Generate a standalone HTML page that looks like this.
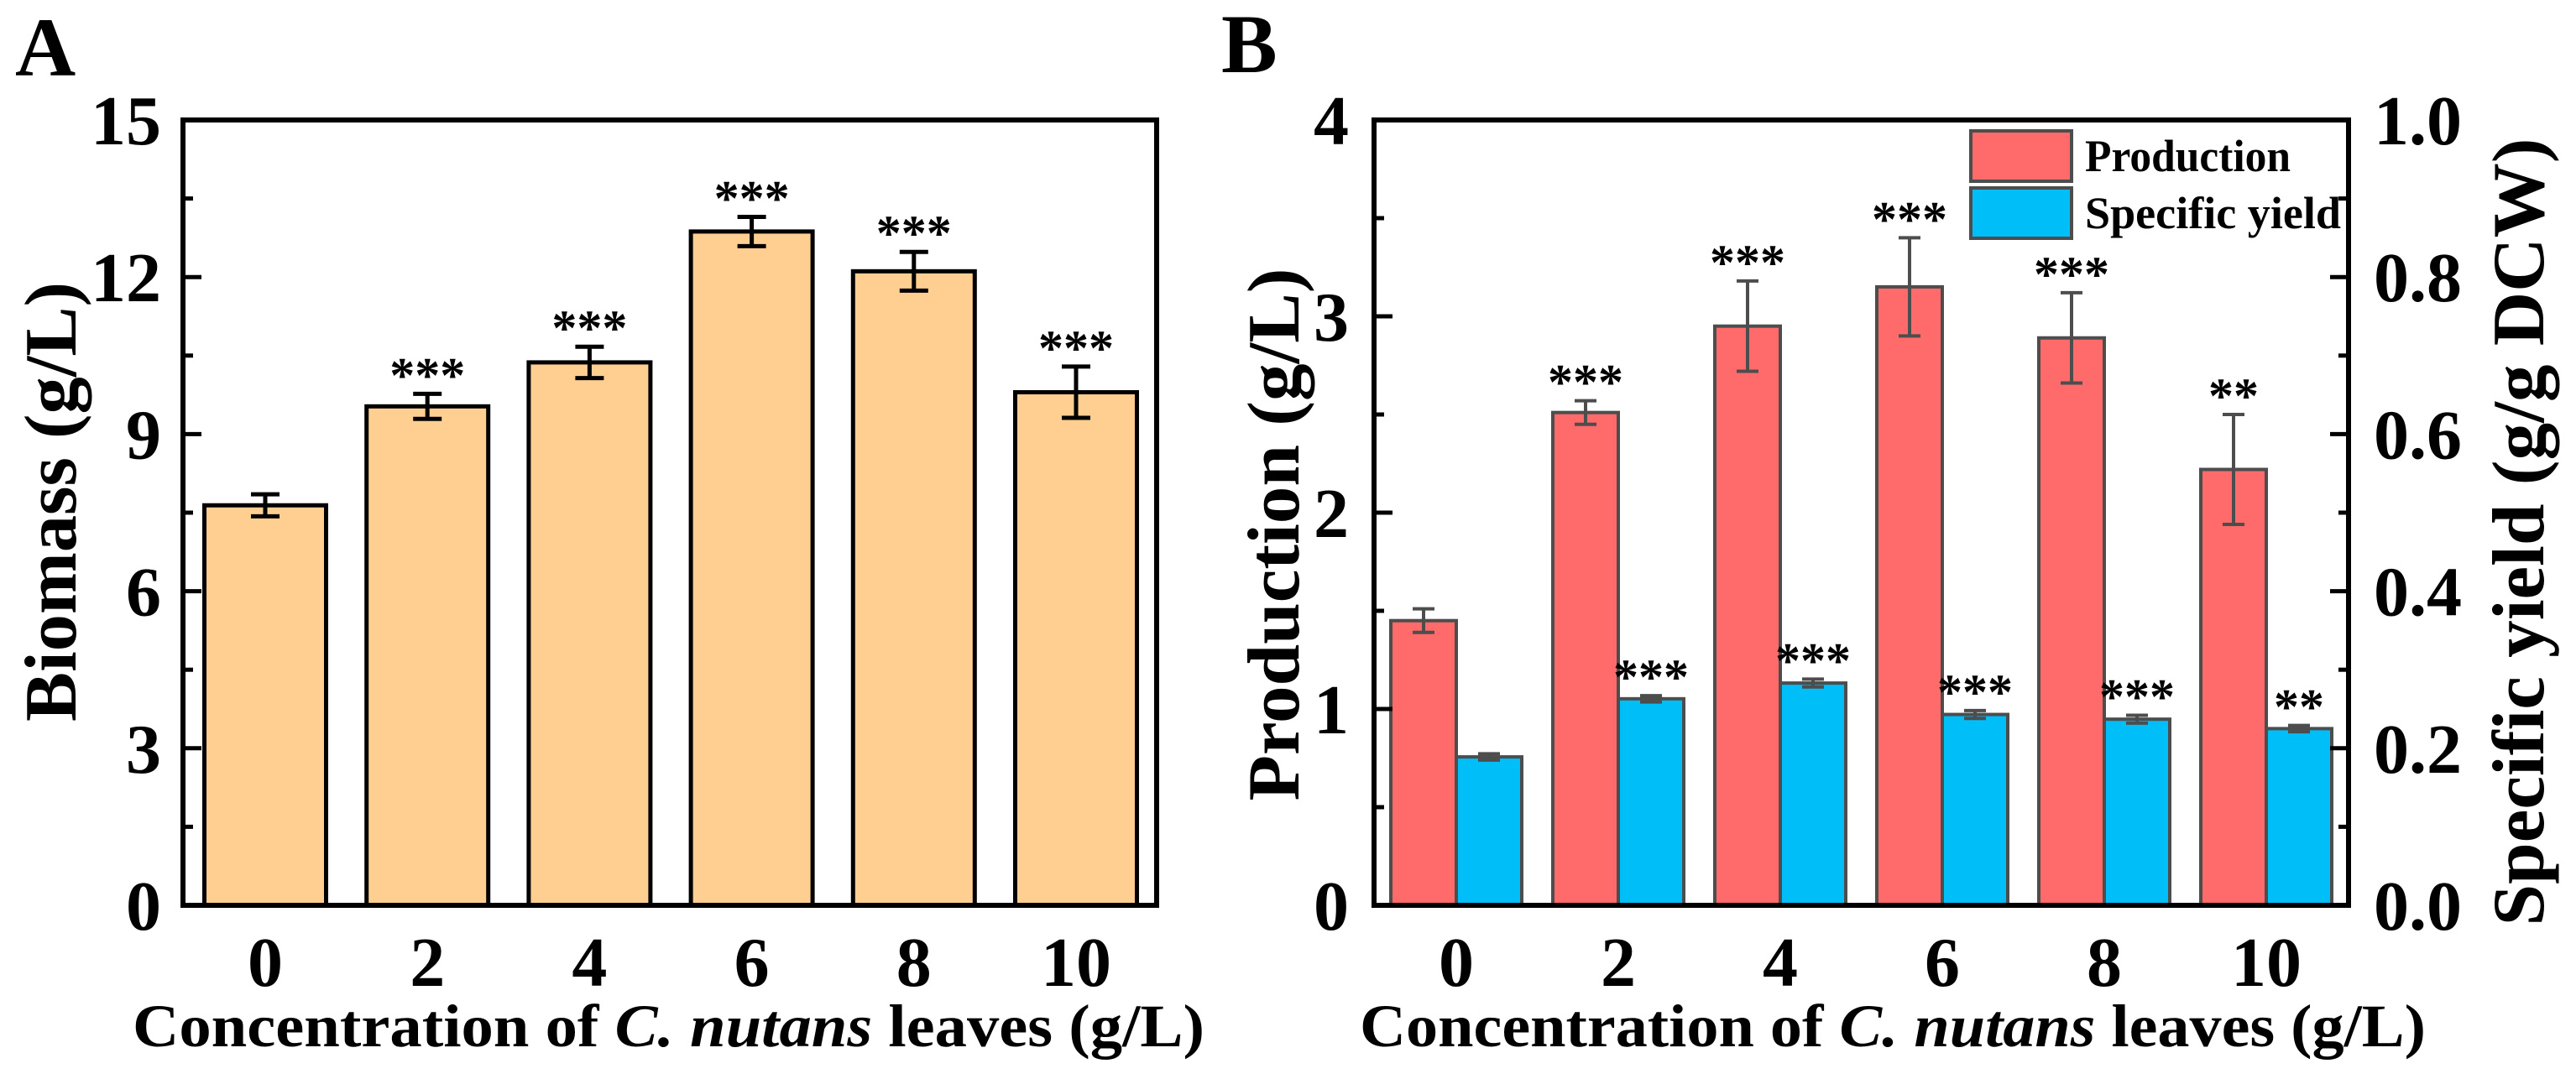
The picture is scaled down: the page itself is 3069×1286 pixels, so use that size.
<!DOCTYPE html>
<html><head><meta charset="utf-8">
<style>html,body{margin:0;padding:0;background:#fff}svg{display:block}text{font-family:"Liberation Serif",serif;font-weight:bold;fill:#000}</style>
</head><body>
<svg id="fig" width="3069" height="1286" viewBox="0 0 3069 1286" xmlns="http://www.w3.org/2000/svg">
<text x="18" y="90" font-size="100">A</text>
<text x="1455" y="86" font-size="100">B</text>
<g id="A"></g>
<g id="B"></g>
</svg>
<script>
const catsA = ["0","2","4","6","8","10"];
const biomass = [7.64, 9.53, 10.37, 12.87, 12.11, 9.80];
const biomassErr = [0.21, 0.24, 0.30, 0.28, 0.37, 0.49];
const starsA = ["", "***", "***", "***", "***", "***"];
const ticksA = [0, 3, 6, 9, 12, 15];

const catsB = ["0","2","4","6","8","10"];
const production = [1.45, 2.51, 2.95, 3.15, 2.89, 2.22];
const productionErr = [0.06, 0.06, 0.23, 0.25, 0.23, 0.28];
const starsProd = ["", "***", "***", "***", "***", "**"];
const specYield = [0.189, 0.263, 0.283, 0.243, 0.237, 0.225];
const specYieldErr = [0.004, 0.004, 0.005, 0.005, 0.005, 0.004];
const starsYield = ["", "***", "***", "***", "***", "**"];
const ticksBL = [0, 1, 2, 3, 4];
const ticksBR = ["0.0", "0.2", "0.4", "0.6", "0.8", "1.0"];

const NS = "http://www.w3.org/2000/svg";
function mk(parent, tag, attrs, txt) {
  const e = document.createElementNS(NS, tag);
  for (const k in attrs) e.setAttribute(k, attrs[k]);
  if (txt !== undefined) e.textContent = txt;
  parent.appendChild(e);
  return e;
}
const TOP = 143, BOT = 1079;

// ---------- Panel A ----------
const gA = document.getElementById("A");
const AL = 218, AR = 1378;
const yA = v => BOT - v / 15 * (BOT - TOP);
const xA = i => 316 + i * 193.2;
const bwA = 145;
biomass.forEach((v, i) => {
  const r = mk(gA, "rect", {x: xA(i) - bwA / 2, y: yA(v), width: bwA, height: BOT - yA(v), fill: "#FECF90", stroke: "#000", "stroke-width": 5});
  
  
  const t = yA(v + biomassErr[i]), b = yA(v - biomassErr[i]);
  const e = mk(gA, "path", {d: `M${xA(i)},${t}V${b}M${xA(i)-17},${t}H${xA(i)+17}M${xA(i)-17},${b}H${xA(i)+17}`, stroke: "#000", "stroke-width": 5, fill: "none"});
  
  
  if (starsA[i]) {
    const s = mk(gA, "text", {x: xA(i), y: t - 2, "font-size": 60, "text-anchor": "middle", "font-weight": "normal"}, starsA[i]);
    
    
  }
  const l = mk(gA, "text", {x: xA(i), y: 1175, "font-size": 84, "text-anchor": "middle"}, catsA[i]);
  
  
});
for (let v = 1.5; v < 15; v += 1.5) {
  const major = Math.abs(v / 3 - Math.round(v / 3)) < 1e-6;
  const tk = mk(gA, "line", {x1: AL, x2: AL + (major ? 22 : 12), y1: yA(v), y2: yA(v), stroke: "#000", "stroke-width": 5});
  
  
}
ticksA.forEach(v => {
  const l = mk(gA, "text", {x: 192, y: yA(v) + 29, "font-size": 84, "text-anchor": "end"}, String(v));
  
  
});
const frA = mk(gA, "rect", {x: AL, y: TOP, width: AR - AL, height: BOT - TOP, fill: "none", stroke: "#000", "stroke-width": 6});


const ytA = mk(gA, "text", {x: 0, y: 0, "font-size": 88, "text-anchor": "middle", transform: "translate(90,598) rotate(-90)", textLength: 524, lengthAdjust: "spacingAndGlyphs"}, "Biomass (g/L)");


const xtA = mk(gA, "text", {x: 158, y: 1247, "font-size": 72, textLength: 1277, lengthAdjust: "spacingAndGlyphs"});


mk(xtA, "tspan", {}, "Concentration of ");
mk(xtA, "tspan", {"font-style": "italic"}, "C. nutans");
mk(xtA, "tspan", {}, " leaves (g/L)");

// ---------- Panel B ----------
const gB = document.getElementById("B");
const BL = 1637, BR = 2798;
const yBL = v => BOT - v / 4 * (BOT - TOP);
const yBR = v => BOT - v / 1 * (BOT - TOP);
const xB = i => 1735 + i * 193;
const bwB = 78;
const grey = "#4d4d4d";
production.forEach((v, i) => {
  const cx = xB(i) - bwB / 2;
  const r = mk(gB, "rect", {x: cx - bwB / 2, y: yBL(v), width: bwB, height: BOT - yBL(v), fill: "#FF6A6A", stroke: grey, "stroke-width": 4});
  
  
  const t = yBL(v + productionErr[i]), b = yBL(v - productionErr[i]);
  const e = mk(gB, "path", {d: `M${cx},${t}V${b}M${cx-13},${t}H${cx+13}M${cx-13},${b}H${cx+13}`, stroke: grey, "stroke-width": 4, fill: "none"});
  
  
  if (starsProd[i]) {
    const s = mk(gB, "text", {x: cx, y: t - 2, "font-size": 60, "text-anchor": "middle", "font-weight": "normal"}, starsProd[i]);
    
    
  }
});
specYield.forEach((v, i) => {
  const cx = xB(i) + bwB / 2;
  const r = mk(gB, "rect", {x: cx - bwB / 2, y: yBR(v), width: bwB, height: BOT - yBR(v), fill: "#00BEF8", stroke: grey, "stroke-width": 4});
  
  
  const t = yBR(v + specYieldErr[i]), b = yBR(v - specYieldErr[i]);
  const e = mk(gB, "path", {d: `M${cx},${t}V${b}M${cx-13},${t}H${cx+13}M${cx-13},${b}H${cx+13}`, stroke: grey, "stroke-width": 4, fill: "none"});
  
  
  if (starsYield[i]) {
    const s = mk(gB, "text", {x: cx, y: t - 2, "font-size": 60, "text-anchor": "middle", "font-weight": "normal"}, starsYield[i]);
    
    
  }
  const l = mk(gB, "text", {x: xB(i), y: 1175, "font-size": 84, "text-anchor": "middle"}, catsB[i]);
  
  
});
for (let v = 0.5; v < 4; v += 0.5) {
  const major = Math.abs(v - Math.round(v)) < 1e-6;
  const tk = mk(gB, "line", {x1: BL, x2: BL + (major ? 22 : 12), y1: yBL(v), y2: yBL(v), stroke: "#000", "stroke-width": 5});
  
  
}
for (let k = 1; k < 10; k++) {
  const v = k / 10;
  const tk = mk(gB, "line", {x1: BR, x2: BR - (k % 2 === 0 ? 22 : 12), y1: yBR(v), y2: yBR(v), stroke: "#000", "stroke-width": 5});
  
  
}
ticksBL.forEach(v => {
  const l = mk(gB, "text", {x: 1607, y: yBL(v) + 29, "font-size": 84, "text-anchor": "end"}, String(v));
  
  
});
ticksBR.forEach(s => {
  const l = mk(gB, "text", {x: 2828, y: yBR(parseFloat(s)) + 29, "font-size": 84}, s);
  
  
});
const frB = mk(gB, "rect", {x: BL, y: TOP, width: BR - BL, height: BOT - TOP, fill: "none", stroke: "#000", "stroke-width": 6});


// legend
const lg = mk(gB, "g", {});


const lr = mk(lg, "rect", {x: 2348, y: 156, width: 120, height: 60, fill: "#FF6A6A", stroke: grey, "stroke-width": 4});


const lb = mk(lg, "rect", {x: 2348, y: 224, width: 120, height: 60, fill: "#00BEF8", stroke: grey, "stroke-width": 4});


const lt1 = mk(lg, "text", {x: 2484, y: 204, "font-size": 54, textLength: 245, lengthAdjust: "spacingAndGlyphs"}, "Production");


const lt2 = mk(lg, "text", {x: 2484, y: 272, "font-size": 54, textLength: 305, lengthAdjust: "spacingAndGlyphs"}, "Specific yield");


const ytBL = mk(gB, "text", {x: 0, y: 0, "font-size": 88, "text-anchor": "middle", transform: "translate(1547,637) rotate(-90)", textLength: 635, lengthAdjust: "spacingAndGlyphs"}, "Production (g/L)");


const ytBR = mk(gB, "text", {x: 0, y: 0, "font-size": 88, "text-anchor": "middle", transform: "translate(3030,634) rotate(-90)", textLength: 939, lengthAdjust: "spacingAndGlyphs"}, "Specific yield (g/g DCW)");


const xtB = mk(gB, "text", {x: 1620, y: 1247, "font-size": 72, textLength: 1270, lengthAdjust: "spacingAndGlyphs"});


mk(xtB, "tspan", {}, "Concentration of ");
mk(xtB, "tspan", {"font-style": "italic"}, "C. nutans");
mk(xtB, "tspan", {}, " leaves (g/L)");
</script>
</body></html>
